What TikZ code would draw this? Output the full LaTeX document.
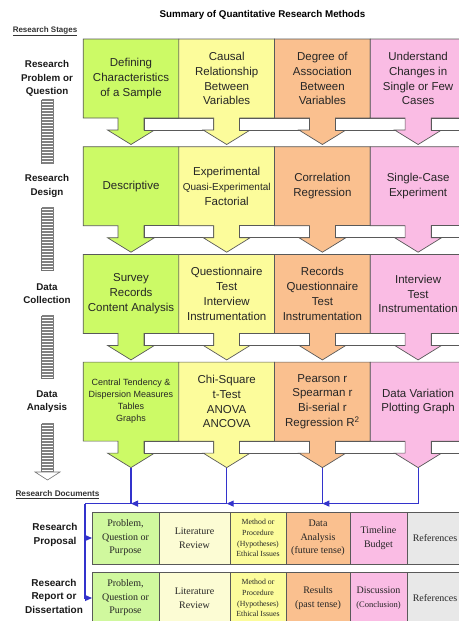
\documentclass[tikz,border=0pt]{standalone}
\usepackage{fontspec}
\setmainfont{Liberation Sans}
\newfontfamily\docfont{Liberation Serif}
\usetikzlibrary{positioning,backgrounds,arrows.meta}

\definecolor{stagegreen}{RGB}{204,250,102}
\definecolor{stageyellow}{RGB}{252,252,155}
\definecolor{stageorange}{RGB}{250,192,143}
\definecolor{stagepink}{RGB}{250,188,228}
\definecolor{docgreen}{RGB}{208,248,158}
\definecolor{docpale}{RGB}{252,252,212}
\definecolor{docgray}{RGB}{232,232,232}
\definecolor{busblue}{RGB}{51,51,204}

% box with its arrow below, and the white strip to its right
\newcommand{\stagearrow}[2]{%
  \filldraw[fill=#2, draw=black!65, line width=0.7pt]
    (#1.north west) -- (#1.north east) -- (#1.south east)
    -- ([xshift=13pt]#1.south) -- ([xshift=13pt,yshift=-12pt]#1.south)
    -- ([xshift=23.5pt,yshift=-12pt]#1.south) -- ([yshift=-26.5pt]#1.south)
    -- ([xshift=-23.5pt,yshift=-12pt]#1.south) -- ([xshift=-13pt,yshift=-12pt]#1.south)
    -- ([xshift=-13pt]#1.south) -- (#1.south west) -- cycle;
  \filldraw[fill=white, draw=black!65, line width=0.7pt]
    ([xshift=13pt]#1.south) rectangle ([xshift=34.85pt,yshift=-12pt]#1.south east);
}

\begin{document}
\begin{tikzpicture}[x=1pt,y=1pt,
    stagebox/.style={minimum width=95.7pt,minimum height=79pt,inner sep=1pt,outer sep=0pt,
      align=center,text=black!85,font=\fontsize{11.5}{14.8}\selectfont},
    stagelabel/.style={align=center,text=black!90,font=\bfseries\fontsize{9.8}{13.5}\selectfont},
    doccell/.style={draw=black!65,line width=0.8pt,minimum height=52pt,inner sep=1pt,outer sep=0pt,
      align=center,text=black!85,font=\docfont\fontsize{10}{13.5}\selectfont},
    busline/.style={draw=busblue,line width=1.1pt},
    busarrow/.style={busline,-{Triangle[length=7pt,width=6pt]}}]
  \useasboundingbox (0,0) rectangle (458,-621);

  \node[font=\bfseries\fontsize{9.8}{11}\selectfont] (title) at (262.5,-15) {Summary of Quantitative Research Methods};
  \node[font=\bfseries\fontsize{8}{10}\selectfont,text=black!80] (stages) at (45,-31) {\underline{Research Stages}};

  \begin{scope}[node distance=107.7pt and 95.7pt,on grid]
    \node[stagebox] (11) at (131,-78.5) {Defining\\Characteristics\\of a Sample};
    \node[stagebox] (12) [right=of 11] {Causal\\Relationship\\Between\\Variables};
    \node[stagebox] (13) [right=of 12] {Degree of\\Association\\Between\\Variables};
    \node[stagebox] (14) [right=of 13] {Understand\\Changes in\\Single or Few\\Cases};

    \node[stagebox] (21) [below=of 11] {Descriptive};
    \node[stagebox] (22) [right=of 21] {Experimental\\{\fontsize{10}{12}\selectfont Quasi-Experimental}\\Factorial};
    \node[stagebox] (23) [right=of 22] {Correlation\\Regression};
    \node[stagebox] (24) [right=of 23] {Single-Case\\Experiment};

    \node[stagebox] (31) [below=of 21] {Survey\\Records\\Content Analysis};
    \node[stagebox] (32) [right=of 31] {Questionnaire\\Test\\Interview\\Instrumentation};
    \node[stagebox] (33) [right=of 32] {Records\\Questionnaire\\Test\\Instrumentation};
    \node[stagebox] (34) [right=of 33] {Interview\\Test\\Instrumentation};

    \node[stagebox,font=\fontsize{9}{12}\selectfont] (41) [below=of 31] {Central Tendency \&\\Dispersion Measures\\Tables\\Graphs};
    \node[stagebox] (42) [right=of 41] {Chi-Square\\t-Test\\ANOVA\\ANCOVA};
    \node[stagebox] (43) [right=of 42] {Pearson r\\Spearman r\\Bi-serial r\\Regression R\textsuperscript{2}};
    \node[stagebox] (44) [right=of 43] {Data Variation\\Plotting Graph};

    \node[stagelabel] (problem)    [left=84pt of 11] {Research\\Problem or\\Question};
    \node[stagelabel] (design)     [left=84pt of 21] {Research\\Design};
    \node[stagelabel] (collection) [left=84pt of 31] {Data\\Collection};
    \node[stagelabel] (analysis)   [left=84pt of 41] {Data\\Analysis};
  \end{scope}

  \begin{scope}[on background layer]
    \stagearrow{11}{stagegreen} \stagearrow{12}{stageyellow} \stagearrow{13}{stageorange} \stagearrow{14}{stagepink}
    \stagearrow{21}{stagegreen} \stagearrow{22}{stageyellow} \stagearrow{23}{stageorange} \stagearrow{24}{stagepink}
    \stagearrow{31}{stagegreen} \stagearrow{32}{stageyellow} \stagearrow{33}{stageorange} \stagearrow{34}{stagepink}
    \stagearrow{41}{stagegreen} \stagearrow{42}{stageyellow} \stagearrow{43}{stageorange} \stagearrow{44}{stagepink}
  \end{scope}

  % ladders between the stage labels
  \foreach \t/\b [evaluate=\t as \s using \t+3] in {100/163,208/270,316/378,424/472} {
    \filldraw[fill=white,draw=black!55,line width=0.5pt] (41.5,-\t) rectangle (53.5,-\b);
    \foreach \y in {\t,\s,...,\b} \draw[black!50,line width=1.1pt] (41.5,-\y) -- (53.5,-\y);
  }
  \filldraw[fill=white,draw=black!55,line width=0.6pt] (35,-472) -- (60,-472) -- (47.5,-480) -- cycle;

  \node[font=\bfseries\fontsize{8.2}{10}\selectfont,text=black!80] (documents) at (57.5,-495) {\underline{Research Documents}};

  \node[doccell,fill=docgreen,minimum width=67pt] (p1) at (125.5,-538) {Problem,\\Question or\\Purpose};
  \node[doccell,fill=docpale,minimum width=71pt] (p2) [right=0pt of p1] {Literature\\Review};
  \node[doccell,fill=stageyellow,minimum width=56pt,font=\docfont\fontsize{7.8}{10.8}\selectfont] (p3) [right=0pt of p2] {Method or\\Procedure\\(Hypotheses)\\Ethical Issues};
  \node[doccell,fill=stageorange,minimum width=64pt] (p4) [right=0pt of p3] {Data\\Analysis\\(future tense)};
  \node[doccell,fill=stagepink,minimum width=57pt] (p5) [right=0pt of p4] {Timeline\\Budget};
  \node[doccell,fill=docgray,minimum width=56pt] (p6) [right=0pt of p5] {References};

  \node[doccell,fill=docgreen,minimum width=67pt] (r1) [below=8pt of p1] {Problem,\\Question or\\Purpose};
  \node[doccell,fill=docpale,minimum width=71pt] (r2) [right=0pt of r1] {Literature\\Review};
  \node[doccell,fill=stageyellow,minimum width=56pt,font=\docfont\fontsize{7.8}{10.8}\selectfont] (r3) [right=0pt of r2] {Method or\\Procedure\\(Hypotheses)\\Ethical Issues};
  \node[doccell,fill=stageorange,minimum width=64pt] (r4) [right=0pt of r3] {Results\\(past tense)};
  \node[doccell,fill=stagepink,minimum width=57pt] (r5) [right=0pt of r4] {Discussion\\{\fontsize{8.5}{11}\selectfont (Conclusion)}};
  \node[doccell,fill=docgray,minimum width=56pt] (r6) [right=0pt of r5] {References};

  \node[stagelabel,font=\bfseries\fontsize{10}{13.5}\selectfont] (proposal) at (55,-535) {Research\\Proposal};
  \node[stagelabel,font=\bfseries\fontsize{10}{13.5}\selectfont] (report) at (54,-596) {Research\\Report or\\Dissertation};

  % blue bus from the analysis arrows to the documents
  \coordinate (t1) at ([yshift=-26.5pt]41.south);
  \coordinate (t2) at ([yshift=-26.5pt]42.south);
  \coordinate (t3) at ([yshift=-26.5pt]43.south);
  \coordinate (t4) at ([yshift=-26.5pt]44.south);
  \coordinate (j1) at ([yshift=-36pt]t1);
  \coordinate (j2) at ([yshift=-36pt]t2);
  \coordinate (j3) at ([yshift=-36pt]t3);
  \coordinate (j4) at ([yshift=-36pt]t4);
  \coordinate (jl) at ([xshift=-46pt]j1);
  \draw[busline] (t4) -- (j4);
  \draw[busarrow] (j4) -- (j3);
  \draw[busline] (t3) -- (j3);
  \draw[busarrow] (j3) -- (j2);
  \draw[busline] (t2) -- (j2);
  \draw[busarrow] (j2) -- (j1);
  \draw[busline] (t1) -- (j1) -- (jl);
  \draw[busarrow] (jl) |- (p1.west);
  \draw[busarrow] (jl) |- (r1.west);
\end{tikzpicture}
\end{document}
